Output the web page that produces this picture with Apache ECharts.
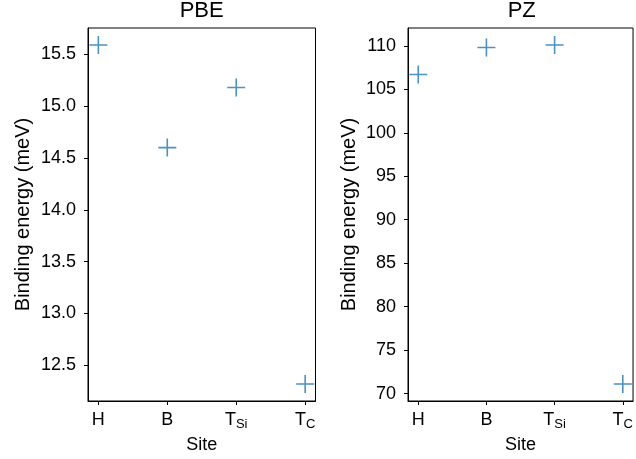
<!DOCTYPE html>
<html>
<head>
<meta charset="utf-8">
<script src="https://cdn.jsdelivr.net/npm/echarts@6/dist/echarts.min.js"></script>
<style>html,body{margin:0;padding:0;background:#fff;}#c{width:636px;height:459px;}</style>
</head>
<body>
<div id="c"></div>
<script>
// ---- data ----
const sites = ['H', 'B', 'T_Si', 'T_C'];
const siteLabels = ['{m|H}', '{m|B}', '{m|T}{s|Si}', '{m|T}{s|C}'];
const pbeValues = [15.59, 14.60, 15.18, 12.32];
const pzValues = [106.7, 109.8, 110.1, 71.1];
const pbeTicks = [12.5, 13.0, 13.5, 14.0, 14.5, 15.0, 15.5];
const pzTicks = [70, 75, 80, 85, 90, 95, 100, 105, 110];
const titles = ['PBE', 'PZ'];
const xName = 'Site';
const yName = 'Binding energy (meV)';

const FONT = '"Liberation Sans", Arial, Helvetica, sans-serif';
const BLUE = '#1f77b4';

function padRange(arr) {
  const lo = Math.min(...arr), hi = Math.max(...arr);
  const m = (hi - lo) * 0.05;
  return [lo - m, hi + m];
}
const pbeR = padRange(pbeValues);
const pzR = padRange(pzValues);

const grids = [
  {left: 88, right: 320.5, top: 28, bottom: 58, show: true, borderColor: '#000', borderWidth: 1, backgroundColor: 'transparent'},
  {left: 408, right: 1, top: 28, bottom: 58, show: true, borderColor: '#000', borderWidth: 1, backgroundColor: 'transparent'}
];

function xAxis(i) {
  return {
    type: 'value', gridIndex: i, min: -0.15, max: 3.15,
    name: xName, nameLocation: 'middle', nameGap: 20,
    nameTextStyle: {fontFamily: FONT, fontSize: 18, color: '#000'},
    axisLine: {show: true, onZero: false, lineStyle: {color: '#000', width: 1}},
    axisTick: {show: true, length: 4, lineStyle: {color: '#000', width: 1}, customValues: [0, 1, 2, 3]},
    splitLine: {show: false},
    axisLabel: {
      customValues: [0, 1, 2, 3], margin: 10,
      formatter: v => siteLabels[Math.round(v)],
      rich: {
        m: {fontFamily: FONT, fontSize: 18, color: '#000', lineHeight: 20, verticalAlign: 'top'},
        s: {fontFamily: FONT, fontSize: 13, color: '#000', lineHeight: 8, verticalAlign: 'bottom'}
      }
    }
  };
}
function yAxis(i, r, ticks, dec, gap) {
  return {
    type: 'value', gridIndex: i, min: r[0], max: r[1],
    name: yName, nameLocation: 'middle', nameGap: gap,
    nameTextStyle: {fontFamily: FONT, fontSize: 20, color: '#000'},
    axisLine: {show: true, onZero: false, lineStyle: {color: '#000', width: 1}},
    axisTick: {show: true, length: 4, lineStyle: {color: '#000', width: 1}, customValues: ticks},
    splitLine: {show: false},
    axisLabel: {
      customValues: ticks, margin: 12,
      fontFamily: FONT, fontSize: 18, color: '#000',
      formatter: v => v.toFixed(dec)
    }
  };
}

const plus = 'path://M9,0L9,18M0,9L18,9';
function series(i, vals) {
  return {
    type: 'scatter', xAxisIndex: i, yAxisIndex: i,
    data: vals.map((v, k) => [k, v]),
    symbol: plus, symbolSize: 18,
    itemStyle: {color: 'transparent', borderColor: BLUE, borderWidth: 1.6},
    emphasis: {disabled: true},
    clip: false
  };
}

const chart = echarts.init(document.getElementById('c'), null, {renderer: 'canvas'});
chart.setOption({
  animation: false,
  backgroundColor: '#fff',
  title: [
    {text: titles[0], left: 201.7, top: 0, padding: 0, textAlign: 'center', textStyle: {fontFamily: FONT, fontSize: 22, fontWeight: 'normal', color: '#000'}},
    {text: titles[1], left: 521.7, top: 0, padding: 0, textAlign: 'center', textStyle: {fontFamily: FONT, fontSize: 22, fontWeight: 'normal', color: '#000'}}
  ],
  grid: grids,
  xAxis: [xAxis(0), xAxis(1)],
  yAxis: [yAxis(0, pbeR, pbeTicks, 1, 55), yAxis(1, pzR, pzTicks, 0, 49)],
  series: [series(0, pbeValues), series(1, pzValues)]
});
</script>
</body>
</html>
